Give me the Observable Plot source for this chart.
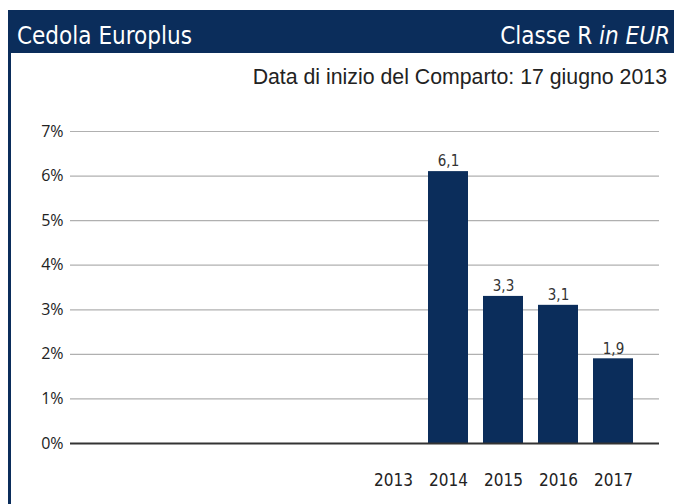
<!DOCTYPE html>
<html>
<head>
<meta charset="utf-8">
<script src="https://cdn.jsdelivr.net/npm/d3@7"></script>
<script src="https://cdn.jsdelivr.net/npm/@observablehq/plot@0.6"></script>
<style>
  html, body { margin: 0; padding: 0; background: #fff; }
  #wrap { position: relative; width: 674px; height: 504px; overflow: hidden; background: #fff; }
  #header { position: absolute; left: 8px; top: 10px; width: 666px; height: 43px; background: #0b2d5b; color: #fff;
    font-family: "DejaVu Sans Condensed", "DejaVu Sans", sans-serif; font-size: 24px; line-height: 1; }
  #header .l { position: absolute; left: 9px; top: 14px; }
  #header .r { position: absolute; right: 4px; top: 14px; }
  #border { position: absolute; left: 8px; top: 10px; width: 3px; height: 494px; background: #0b2d5b; }
  #sub { position: absolute; right: 7px; top: 66px; font-family: "Liberation Sans", Arial, sans-serif; font-size: 21.3px; line-height: 1.1; color: #222; }
  #chart { position: absolute; left: 0; top: 100px; }
</style>
</head>
<body>
<div id="wrap">
  <div id="header"><span class="l">Cedola Europlus</span><span class="r">Classe R <i>in EUR</i></span></div>
  <div id="border"></div>
  <div id="sub">Data di inizio del Comparto: 17 giugno 2013</div>
  <div id="chart"></div>
</div>
<script>
const years = ["2008","2009","2010","2011","2012","2013","2014","2015","2016","2017"];
const values = [null, null, null, null, null, null, 6.1, 3.3, 3.1, 1.9];
const yearTicks = ["2013","2014","2015","2016","2017"];
const yTicks = [0, 1, 2, 3, 4, 5, 6, 7];

const data = years.map((y, i) => ({year: y, value: values[i]})).filter(d => d.value != null);
const navy = "#0b2d5b";

const plot = Plot.plot({
  width: 674,
  height: 404,
  marginLeft: 70,
  marginRight: 15,
  marginTop: 31,
  marginBottom: 61,
  style: {fontFamily: "DejaVu Sans Condensed, DejaVu Sans, sans-serif", background: "transparent"},
  x: {domain: years, paddingInner: 0.27, paddingOuter: 0.4, insetLeft: 2, label: null},
  y: {domain: [0, 7], label: null},
  marks: [
    Plot.gridY(yTicks.filter(d => d > 0), {stroke: "#b0b0b0", strokeOpacity: 1, strokeWidth: 1.2}),
    Plot.barY(data, {x: "year", y: "value", fill: navy}),
    Plot.ruleY([0], {stroke: "#333", strokeWidth: 2}),
    Plot.text(data, {x: "year", y: "value", text: d => d.value.toFixed(1).replace(".", ","), dy: -10, fontSize: 15, fill: "#333"}),
    Plot.axisY({ticks: yTicks, tickSize: 0, tickPadding: 7, tickFormat: d => d + "%", fontSize: 16, fontFamily: "Open Sans, sans-serif", fill: "#222"}),
    Plot.axisX({ticks: yearTicks, tickSize: 0, tickPadding: 30, fontSize: 17, fill: "#222"})
  ]
});
document.getElementById("chart").appendChild(plot);
</script>
</body>
</html>
